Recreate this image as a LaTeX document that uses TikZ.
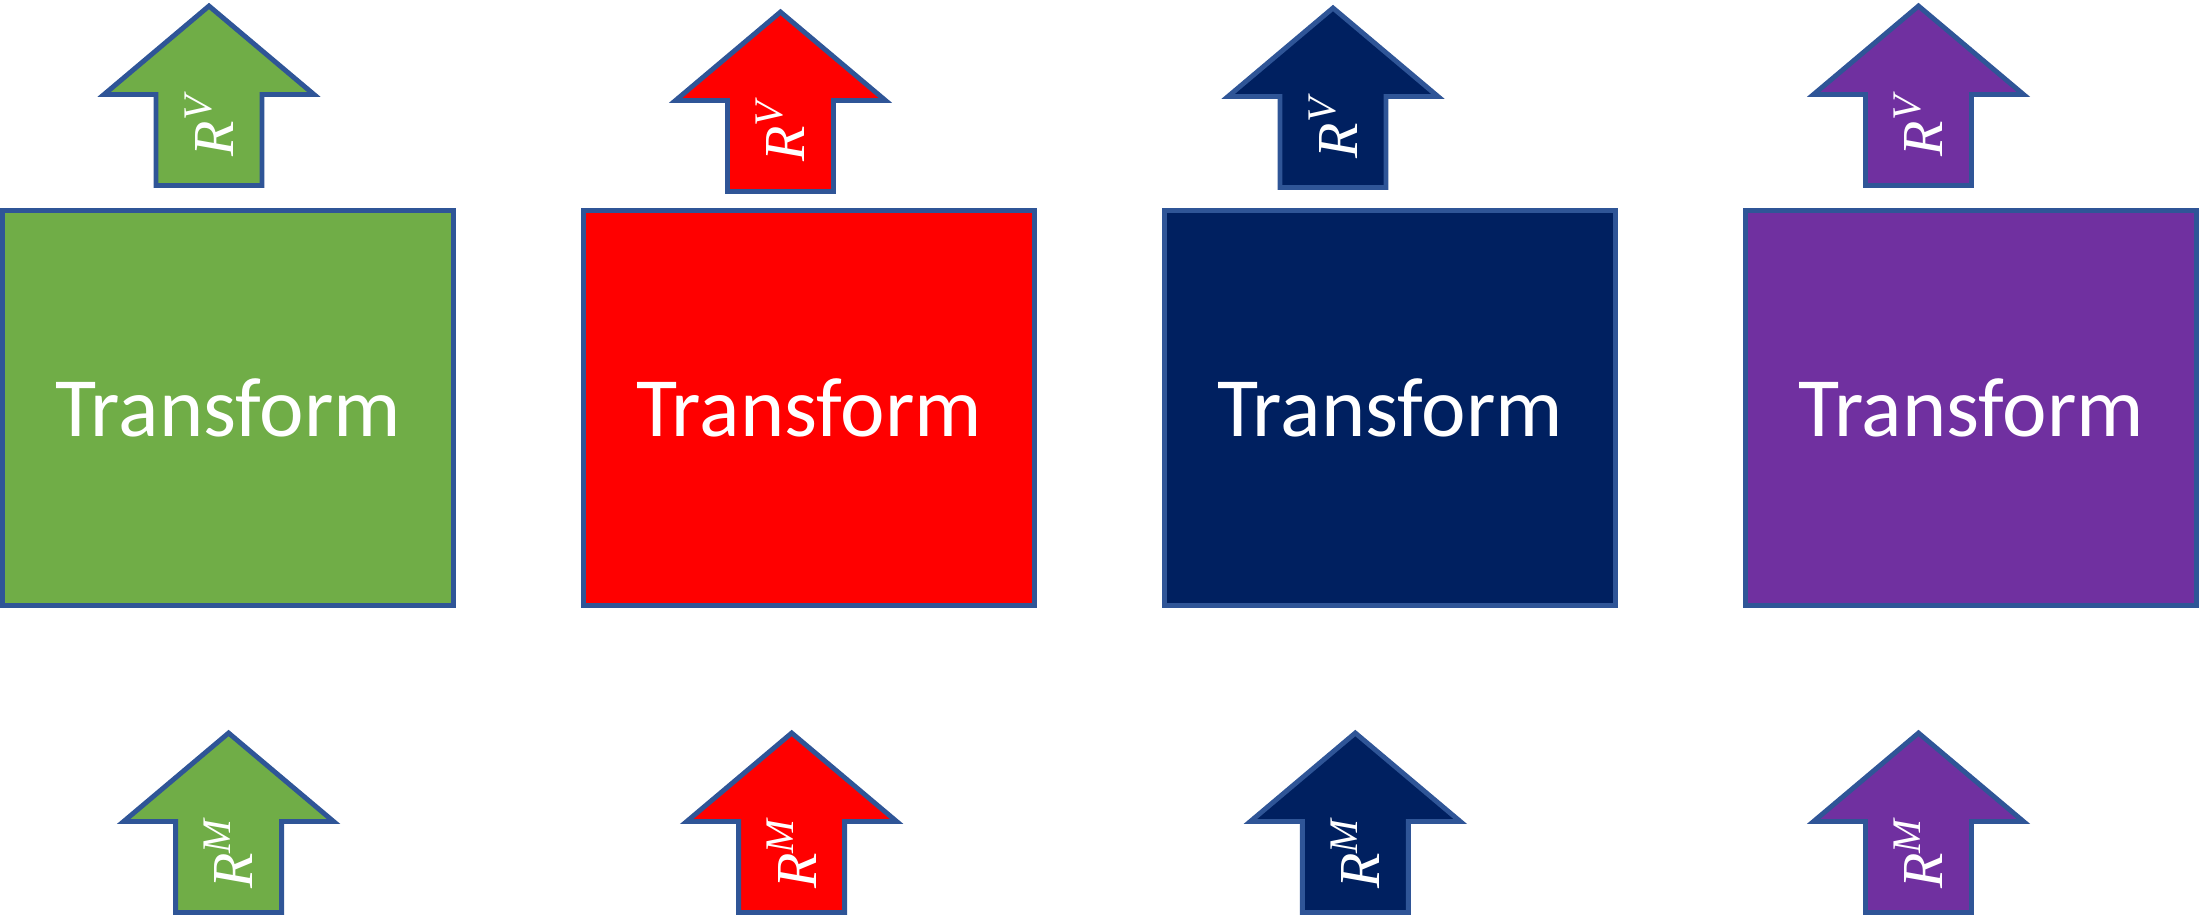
\documentclass[tikz,border=0pt]{standalone}
\usepackage{fontspec}
\newfontfamily\boxfont{Carlito}
\newfontfamily\labfont{Liberation Serif}
\usepackage{tikz}

\definecolor{edgeblue}{HTML}{2F5597}
\definecolor{fgreen}{HTML}{70AD47}
\definecolor{fred}{HTML}{FF0000}
\definecolor{fnavy}{HTML}{002060}
\definecolor{fpurple}{HTML}{7030A0}

\begin{document}
\begin{tikzpicture}[
    tbox/.style={draw=edgeblue, line width=1.4pt, minimum width=4.51cm, minimum height=3.95cm,
        inner sep=0pt, text=white, font=\boxfont\fontsize{24}{29}\selectfont},
    uparr/.style={draw=edgeblue, line width=1.4pt, line join=miter},
    rlab/.style={rotate=90, text=white, inner sep=0pt, font=\labfont\itshape\fontsize{16.5}{20}\selectfont}
]
    \useasboundingbox (0,0) rectangle (21.99,-9.17);

    \coordinate (TG) at (2.09, -0.06);
    \coordinate (TR) at (7.805, -0.12);
    \coordinate (TN) at (13.33, -0.08);
    \coordinate (TP) at (19.185, -0.06);
    \coordinate (BG) at (2.286, -7.33);
    \coordinate (BR) at (7.917, -7.33);
    \coordinate (BN) at (13.553, -7.33);
    \coordinate (BP) at (19.185, -7.33);

    % transform boxes
    \node [tbox, fill=fgreen] (boxG) at (2.28, -4.08) {Transform};
    \node [tbox, fill=fred] (boxR) at (8.09, -4.08) {Transform};
    \node [tbox, fill=fnavy] (boxN) at (13.9, -4.08) {Transform};
    \node [tbox, fill=fpurple] (boxP) at (19.71, -4.08) {Transform};

    % top arrows
    \draw [uparr, fill=fgreen] (TG) -- ++(-1.05,-0.885) -- ++(0.52,0) -- ++(0,-0.91) -- ++(1.06,0) -- ++(0,0.91) -- ++(0.52,0) -- cycle;
    \draw [uparr, fill=fred] (TR) -- ++(-1.05,-0.885) -- ++(0.52,0) -- ++(0,-0.91) -- ++(1.06,0) -- ++(0,0.91) -- ++(0.52,0) -- cycle;
    \draw [uparr, fill=fnavy] (TN) -- ++(-1.05,-0.885) -- ++(0.52,0) -- ++(0,-0.91) -- ++(1.06,0) -- ++(0,0.91) -- ++(0.52,0) -- cycle;
    \draw [uparr, fill=fpurple] (TP) -- ++(-1.05,-0.885) -- ++(0.52,0) -- ++(0,-0.91) -- ++(1.06,0) -- ++(0,0.91) -- ++(0.52,0) -- cycle;
    \node [rlab] (labTG) at (2.09, -1.25) {R\textsuperscript{V}};
    \node [rlab] (labTR) at (7.805, -1.31) {R\textsuperscript{V}};
    \node [rlab] (labTN) at (13.33, -1.27) {R\textsuperscript{V}};
    \node [rlab] (labTP) at (19.185, -1.25) {R\textsuperscript{V}};

    % bottom arrows
    \draw [uparr, fill=fgreen] (BG) -- ++(-1.05,-0.885) -- ++(0.52,0) -- ++(0,-0.91) -- ++(1.06,0) -- ++(0,0.91) -- ++(0.52,0) -- cycle;
    \draw [uparr, fill=fred] (BR) -- ++(-1.05,-0.885) -- ++(0.52,0) -- ++(0,-0.91) -- ++(1.06,0) -- ++(0,0.91) -- ++(0.52,0) -- cycle;
    \draw [uparr, fill=fnavy] (BN) -- ++(-1.05,-0.885) -- ++(0.52,0) -- ++(0,-0.91) -- ++(1.06,0) -- ++(0,0.91) -- ++(0.52,0) -- cycle;
    \draw [uparr, fill=fpurple] (BP) -- ++(-1.05,-0.885) -- ++(0.52,0) -- ++(0,-0.91) -- ++(1.06,0) -- ++(0,0.91) -- ++(0.52,0) -- cycle;
    \node [rlab] (labBG) at (2.286, -8.53) {R\textsuperscript{M}};
    \node [rlab] (labBR) at (7.917, -8.53) {R\textsuperscript{M}};
    \node [rlab] (labBN) at (13.553, -8.53) {R\textsuperscript{M}};
    \node [rlab] (labBP) at (19.185, -8.53) {R\textsuperscript{M}};
\end{tikzpicture}
\end{document}
